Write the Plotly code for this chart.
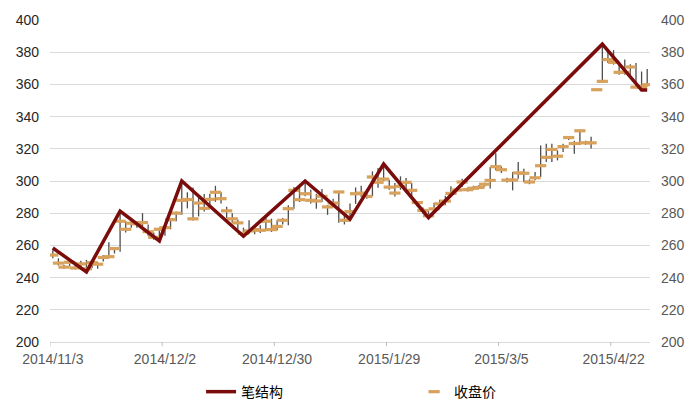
import plotly.graph_objects as go

# x axis labels (every 20 trading days)
date_labels = ['2014/11/3', '2014/12/2', '2014/12/30', '2015/1/29', '2015/3/5', '2015/4/22']
label_idx = [0, 20, 40, 60, 80, 100]

# daily close / high / low, one value per trading day
close = [254, 249, 246.5, 249.5, 246, 248.5, 245.5, 249.3, 248.3, 252.5,
         253, 258, 275, 270, 273.8, 273.4, 274.2, 268.5, 265, 270,
         271, 276, 280, 288, 288.5, 276.5, 286.3, 283, 288.6, 293,
         289, 281.5, 276.5, 274, 267.5, 269, 269.8, 269.4, 275, 269.8,
         271.8, 275.6, 282.8, 294.2, 288.4, 292.1, 288, 287.6, 290.5, 283.9,
         286.3, 293.2, 275.6, 281, 292.1, 292.5, 290.4, 302.5, 299.2, 301.2,
         296.2, 292.5, 296.7, 299.2, 294.2, 286.6, 281.7, 278.4, 282.7, 285.8,
         287.5, 292.3, 294.4, 299.4, 294.6, 295.5, 296, 298, 300.4, 308.9,
         307, 300.5, 300.6, 305, 304.8, 299.4, 302, 309.5, 314.7, 319.6,
         315.4, 321.4, 327, 323.3, 331.2, 323.7, 323.7, 356.7, 361.9, 375.4,
         373.7, 367.5, 367.5, 370.8, 358.3, 358.3, 359.8]
high = [257, 252, 248, 250.5, 248, 250.5, 251, 250, 249.5, 254,
        262, 259, 281, 275, 276, 275, 280, 273, 268, 271,
        272, 277, 281, 300, 293, 296, 290, 292, 292, 297,
        293, 284, 280, 276, 271, 275.6, 271, 272.5, 277.6, 276.6,
        275.6, 277, 285, 296.3, 296, 300, 294.5, 292, 295, 285,
        289, 294, 280, 286, 296, 297, 295, 306, 308, 310.5,
        300.8, 298.8, 302.9, 301.9, 298.8, 287.5, 283.5, 281.5, 286.5, 288.3,
        290.8, 296.7, 295.5, 301.4, 296, 297, 297.5, 299, 308.7, 317.3,
        309, 302, 305.6, 311.8, 307.6, 301, 305.6, 322, 323.1, 323.1,
        319, 323.1, 328, 325, 332, 325, 327.5, 356.7, 385, 380.6,
        381.3, 374, 375.4, 372.5, 373.3, 368, 369.6]
low = [252, 247.5, 245.5, 247, 245, 245.5, 243.5, 246, 245.5, 250,
       252, 255, 256, 268, 271, 271, 272, 266, 263.5, 262.8,
       266, 270, 275, 279, 283, 275.5, 278, 281, 285, 287,
       286, 277, 274, 270, 265.7, 267.3, 267, 267.7, 269.4, 268.3,
       269.4, 273, 272.5, 282.8, 287, 290.5, 286, 282.8, 287, 279,
       285, 274, 273, 276.3, 285.8, 290, 289, 290.6, 295.8, 300,
       294.6, 290.4, 294.6, 292.5, 289.6, 284.2, 279.8, 277.3, 281.5, 283.1,
       285, 291, 293, 296.3, 293.5, 294.5, 295, 296.5, 295.3, 306.6,
       305, 299, 294.2, 301.4, 299.4, 298, 300.4, 302.5, 311.8, 311.8,
       312.8, 318, 325.5, 317, 322.3, 322.5, 320.2, 356.7, 361, 373.3,
       372.3, 366, 366, 366, 357.7, 356.5, 358.8]

# stroke structure pivots (day index, price)
stroke_idx = [0, 6, 12, 19, 23, 34, 45, 53, 59, 67, 98, 105, 106]
stroke_val = [258.4, 243.5, 281.3, 262.8, 300, 265.7, 300, 276.3, 310.5, 277.3, 385, 356.5, 356.5]

days = list(range(len(close)))

# high-low sticks drawn as one broken line
hl_x, hl_y = [], []
for d, h, l in zip(days, high, low):
    hl_x += [d, d, None]
    hl_y += [l, h, None]

fig = go.Figure()
fig.add_trace(go.Scatter(x=hl_x, y=hl_y, mode='lines',
                         line=dict(color='#4D4D4D', width=1.3),
                         showlegend=False, hoverinfo='skip'))
fig.add_trace(go.Scatter(x=days, y=close, mode='markers', name='收盘价', legendrank=2,
                         marker=dict(symbol='line-ew', size=8,
                                     line=dict(color='#D8A15C', width=3.2))))
fig.add_trace(go.Scatter(x=stroke_idx, y=stroke_val, mode='lines', name='笔结构', legendrank=1,
                         line=dict(color='#7A0C0C', width=3.5)))
# invisible copy so the right-hand price axis gets drawn
fig.add_trace(go.Scatter(x=days, y=close, yaxis='y2', mode='markers',
                         marker=dict(opacity=0), showlegend=False, hoverinfo='skip'))

# small tick marks between categories, under the axis line
for i in label_idx:
    fig.add_shape(type='line', xref='x', yref='paper', x0=i - 0.5, x1=i - 0.5, y0=0, y1=-0.013,
                  line=dict(color='#BFBFBF', width=1))

# page body has an 8px margin, so the figure is shrunk by that much
fig.update_layout(
    template='none',
    width=692, height=409,
    margin=dict(l=42, r=50, t=12, b=75, autoexpand=False),
    plot_bgcolor='white', paper_bgcolor='white',
    font=dict(family='Liberation Sans, Arial, sans-serif', size=14, color='#595959'),
    xaxis=dict(range=[-0.5, 106.5], tickvals=label_idx, ticktext=date_labels,
               ticks='', showgrid=False, gridcolor='rgba(0,0,0,0)',
               showline=True, linecolor='#D9D9D9', zeroline=False, ticklabelstandoff=4),
    yaxis=dict(range=[200, 400], dtick=20, showgrid=True, gridcolor='#D9D9D9',
               ticks='', showline=False, zeroline=False,
               tickfont=dict(color='#262626'), ticklabelstandoff=10),
    yaxis2=dict(range=[200, 400], dtick=20, overlaying='y', side='right', anchor='x',
                ticks='', showline=False, showgrid=False, gridcolor='rgba(0,0,0,0)',
                zeroline=False, ticklabelstandoff=10),
    legend=dict(orientation='h', xref='container', yref='container',
                x=0.279, y=0.061, xanchor='left', yanchor='middle',
                entrywidth=168, bgcolor='rgba(0,0,0,0)',
                font=dict(family='Noto Sans CJK SC', size=14, color='#000000')),
    hovermode=False,
)

fig.write_html("out.html")
